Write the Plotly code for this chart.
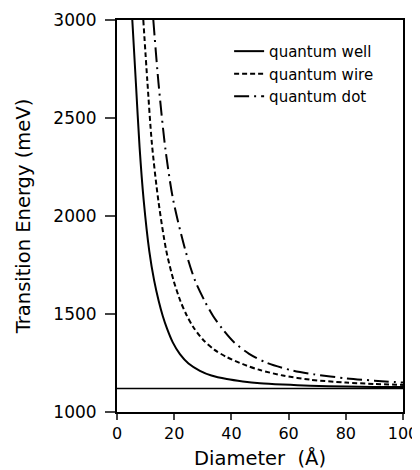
import plotly.graph_objects as go

# Data
well_d = [5.35, 6.6, 7.9, 9.3, 11.3, 13.0, 14.6, 16.0, 17.5, 19.5, 22, 25, 29, 33, 38.4, 44, 50, 58, 67.5, 80, 90, 100]
well_E = [3000, 2680, 2350, 2085, 1820, 1670, 1565, 1490, 1425, 1355, 1295, 1247, 1210, 1186, 1168, 1156, 1147, 1140, 1134, 1130, 1128, 1127]

wire_d = [9.2, 10.6, 12.2, 14.4, 17.2, 19.8, 22.2, 24.3, 26.6, 30, 34, 38.4, 44, 50, 58, 67.5, 80, 90, 100]
wire_E = [3000, 2690, 2370, 2085, 1825, 1670, 1565, 1495, 1435, 1370, 1318, 1280, 1244, 1214, 1186, 1165, 1150, 1143, 1138]

dot_d = [12.7, 14.5, 16.9, 19.6, 23.9, 27.3, 30.7, 33.6, 36.8, 41, 46.2, 52.5, 61, 69, 80, 90, 100]
dot_E = [3000, 2680, 2345, 2085, 1825, 1670, 1565, 1490, 1425, 1355, 1297, 1250, 1213, 1192, 1172, 1160, 1150]

gap_d = [0, 100]
gap_E = [1120, 1120]

x_ticks = [0, 20, 40, 60, 80, 100]
y_ticks = [1000, 1500, 2000, 2500, 3000]

FONT = "DejaVu Sans, sans-serif"

fig = go.Figure()
fig.add_trace(go.Scatter(x=well_d, y=well_E, mode="lines", name="quantum well",
                         line=dict(color="black", width=2, shape="spline", smoothing=0.8)))
fig.add_trace(go.Scatter(x=wire_d, y=wire_E, mode="lines", name="quantum wire",
                         line=dict(color="black", width=2, dash="5px,3px", shape="spline", smoothing=0.8)))
fig.add_trace(go.Scatter(x=dot_d, y=dot_E, mode="lines", name="quantum dot",
                         line=dict(color="black", width=2, dash="15px,5px,2px,5px", shape="spline", smoothing=0.8)))
fig.add_trace(go.Scatter(x=gap_d, y=gap_E, mode="lines", showlegend=False,
                         line=dict(color="black", width=1.5)))

# the page body has an 8px default margin, so the figure is sized/offset to fit the 420x470 window
fig.update_layout(
    width=412, height=462,
    margin=dict(l=109, r=17, t=12, b=58),
    paper_bgcolor="white", plot_bgcolor="white",
    font=dict(family=FONT, color="black", size=15),
    showlegend=True,
    legend=dict(x=0.392, y=0.962, xanchor="left", yanchor="top",
                bgcolor="rgba(0,0,0,0)", font=dict(size=15), tracegroupgap=0),
    xaxis=dict(range=[0, 100], tickvals=x_ticks, ticks="outside", ticklen=6, tickwidth=1.5,
               showline=True, linecolor="black", linewidth=2, mirror=True, showgrid=False,
               zeroline=False, tickfont=dict(size=16), automargin=False,
               title=dict(text="Diameter  (Å)", font=dict(size=19.5), standoff=10)),
    yaxis=dict(range=[1000, 3000], tickvals=y_ticks, ticks="outside", ticklen=10, tickwidth=1.5,
               showline=True, linecolor="black", linewidth=2, mirror=True, showgrid=False,
               zeroline=False, tickfont=dict(size=17), automargin=False, ticklabelstandoff=5,
               title=dict(text="Transition Energy (meV)", font=dict(size=19.5), standoff=18)),
)

fig.write_html("out.html")
